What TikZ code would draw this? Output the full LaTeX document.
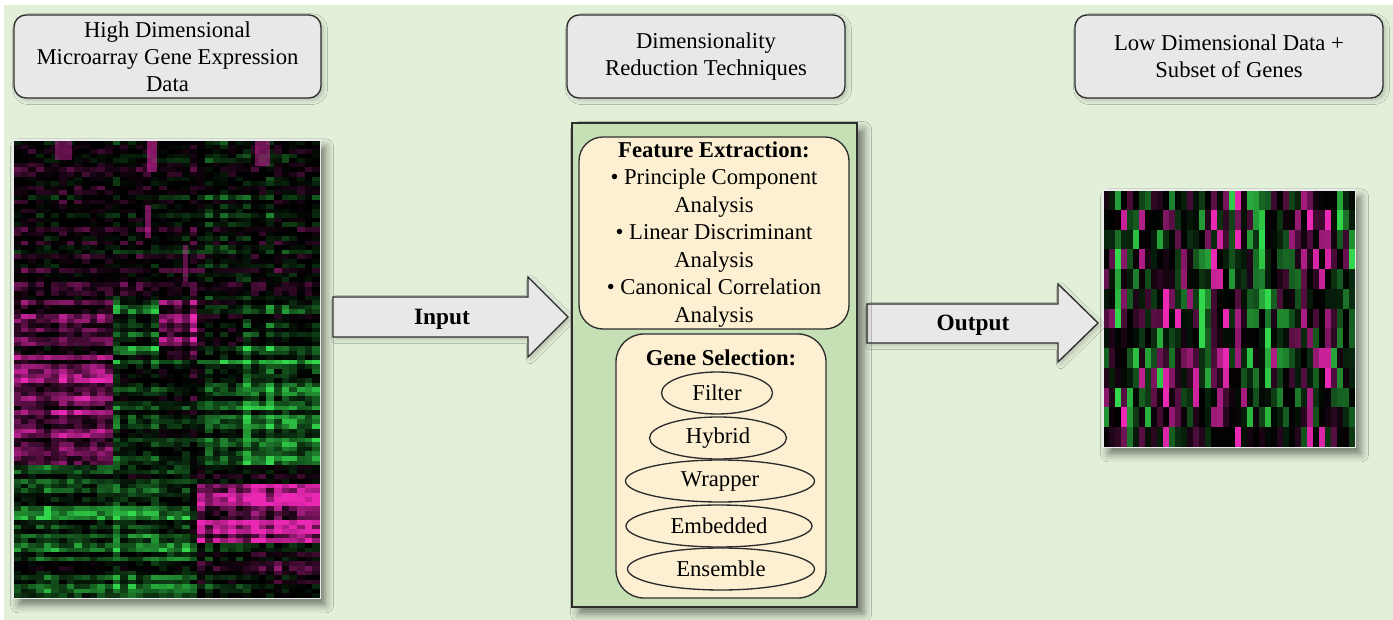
\documentclass[tikz,border=0pt]{standalone}
\usepackage{fontspec}
\setmainfont{Liberation Serif}
\usetikzlibrary{shapes.geometric,shadows.blur}
\definecolor{bg}{RGB}{226,239,217}
\definecolor{boxgray}{RGB}{232,232,232}
\definecolor{edge}{RGB}{45,45,45}
\definecolor{panel}{RGB}{198,224,181}
\definecolor{cream}{RGB}{253,240,210}
\definecolor{hmM}{RGB}{235,40,180}
\definecolor{hmG}{RGB}{50,215,75}
\definecolor{frame}{RGB}{235,235,235}

\newcommand\hmcell[5]{%
  \pgfmathsetmacro\hmv{#1}%
  \pgfmathtruncatemacro\hmp{min(100,125*(abs(\hmv)+0.001)^1.5)}%
  \ifdim\hmv pt<0pt \def\hmc{hmG}\else\def\hmc{hmM}\fi
  \fill[\hmc!\hmp!black] (#2,#3) rectangle ++(#4,#5);}

\def\setbias#1#2#3{\expandafter\def\csname lb#1-#2\endcsname{#3}}
\setbias{1}{1}{0.03}\setbias{1}{2}{0.0}\setbias{1}{3}{0.05}\setbias{1}{4}{-0.1}\setbias{1}{5}{-0.08}
\setbias{2}{1}{0.2}\setbias{2}{2}{-0.4}\setbias{2}{3}{0.4}\setbias{2}{4}{-0.1}\setbias{2}{5}{-0.35}
\setbias{3}{1}{0.38}\setbias{3}{2}{-0.25}\setbias{3}{3}{-0.1}\setbias{3}{4}{-0.35}\setbias{3}{5}{-0.55}
\setbias{4}{1}{-0.25}\setbias{4}{2}{0.0}\setbias{4}{3}{-0.1}\setbias{4}{4}{0.1}\setbias{4}{5}{0.1}
\setbias{5}{1}{-0.45}\setbias{5}{2}{-0.5}\setbias{5}{3}{-0.3}\setbias{5}{4}{0.5}\setbias{5}{5}{0.6}
\setbias{6}{1}{-0.3}\setbias{6}{2}{-0.35}\setbias{6}{3}{-0.3}\setbias{6}{4}{-0.05}\setbias{6}{5}{0.05}

\tikzset{
  graybox/.style={draw=edge, line width=1pt, fill=boxgray, rounded corners=9pt,
    align=center, inner sep=0pt, font=\fontsize{17}{20.25}\selectfont,
    blur shadow={shadow xshift=2pt, shadow yshift=-2pt, shadow blur radius=3pt, shadow opacity=20}},
  bigarrow/.style={draw=edge, line width=1pt, fill=boxgray,
    blur shadow={shadow xshift=2pt, shadow yshift=-2pt, shadow blur radius=3pt, shadow opacity=20}},
  arrowlabel/.style={font=\fontsize{17.5}{20}\selectfont\bfseries, inner sep=0pt},
  creambox/.style={draw=edge, line width=1pt, fill=cream, inner sep=0pt},
  method/.style={ellipse, draw=edge, line width=1pt, fill=cream, inner sep=0pt,
    minimum height=31.5pt, font=\fontsize{17}{18}\selectfont},
  hmshadow/.style={blur shadow={shadow xshift=4pt, shadow yshift=-5pt, shadow blur radius=6pt, shadow opacity=50}}
}

\begin{document}
\begin{tikzpicture}[x=0.75pt,y=-0.75pt]
\useasboundingbox (0,0) rectangle (1393,620);
\fill[white] (0,0) rectangle (1393,620);
\fill[bg] (4,5) rectangle (1393,620);

% ---------- header boxes ----------
\node[graybox, minimum width=230.25pt, minimum height=62.25pt] (hdr1) at (167.5,56.5)
  {High Dimensional\\Microarray Gene Expression\\Data};
\node[graybox, minimum width=208.5pt, minimum height=62.25pt] (hdr2) at (706,56.5)
  {Dimensionality\\Reduction Techniques};
\node[graybox, minimum width=231pt, minimum height=62.25pt] (hdr3) at (1229,56.5)
  {Low Dimensional Data +\\Subset of Genes};

% ---------- left heatmap ----------
\node[hmshadow, fill=black, inner sep=0pt, minimum width=230.25pt, minimum height=343.5pt, anchor=north west] (lhm) at (13,140) {};
\pgfmathsetseed{4242}
\foreach \j in {0,...,39}{\pgfmathsetmacro\t{rand}\expandafter\xdef\csname lcn\j\endcsname{\t}}
\foreach \i in {0,...,99}{%
  \pgfmathsetmacro\rn{rand}%
  \ifnum\i<35 \def\rg{1}\else\ifnum\i<47 \def\rg{2}\else\ifnum\i<71 \def\rg{3}\else\ifnum\i<75 \def\rg{4}\else\ifnum\i<88 \def\rg{5}\else\def\rg{6}\fi\fi\fi\fi\fi
  \foreach \j in {0,...,39}{%
    \ifnum\j<13 \def\cg{1}\else\ifnum\j<19 \def\cg{2}\else\ifnum\j<24 \def\cg{3}\else\ifnum\j<30 \def\cg{4}\else\def\cg{5}\fi\fi\fi\fi
    \hmcell{\csname lb\rg-\cg\endcsname+0.3*(\rn)+0.14*(\csname lcn\j\endcsname)+0.2*rand}{{13+\j*7.675}}{{140+\i*4.58}}{7.9}{4.8}%
  }%
}
\fill[hmM, opacity=.55] (147,140) rectangle (157,172);
\fill[hmM, opacity=.5] (145,205) rectangle (151,238);
\fill[hmM, opacity=.4] (183,245) rectangle (188,282);
\fill[hmM, opacity=.45] (255,140) rectangle (270,166);
\fill[hmM, opacity=.4] (55,140) rectangle (72,160);
\draw[frame, line width=1pt] (lhm.north west) rectangle (lhm.south east);

% ---------- right heatmap ----------
\node[hmshadow, fill=black, inner sep=0pt, minimum width=189pt, minimum height=192.75pt, anchor=north west] (rhm) at (1103,190) {};
\pgfmathsetseed{777}
\foreach \j in {0,...,41}{\pgfmathsetmacro\t{rand}\expandafter\xdef\csname rcn\j\endcsname{\t}}
\foreach \i in {0,...,12}{%
  \foreach \j in {0,...,41}{%
    \hmcell{0.45*(\csname rcn\j\endcsname)+0.68*rand}{{1103+\j*6}}{{190+\i*19.77}}{6.1}{19.9}%
  }%
}
\draw[frame, line width=1.2pt] (rhm.north west) rectangle (rhm.south east);

% ---------- arrows ----------
\draw[bigarrow] (333,297) -- (528,297) -- (528,277) -- (568,317) -- (528,357) -- (528,337) -- (333,337) -- cycle;
\node[arrowlabel] (inlbl) at (442,319) {Input};
\draw[bigarrow] (867,304) -- (1058,304) -- (1058,284) -- (1098,323) -- (1058,362) -- (1058,343) -- (867,343) -- cycle;
\node[arrowlabel] (outlbl) at (973,325) {Output};

% ---------- central panel ----------
\node[draw=edge, line width=1.3pt, fill=panel, inner sep=0pt, minimum width=213.75pt, minimum height=363pt,
  blur shadow={shadow xshift=5pt, shadow yshift=-5pt, shadow blur radius=6pt, shadow opacity=50}] (panel) at (714.5,365) {};

\node[creambox, rounded corners=18pt, minimum width=202.5pt, minimum height=144pt] (fe) at (714,233) {};
\node[align=center, inner sep=0pt, font=\fontsize{17}{20.6}\selectfont] (fetext) at (714,234.5)
  {\textbf{Feature Extraction:}\\• Principle Component\\Analysis\\• Linear Discriminant\\Analysis\\• Canonical Correlation\\Analysis};

\node[creambox, rounded corners=21pt, minimum width=157.5pt, minimum height=198pt] (gs) at (721,466) {};
\node[inner sep=0pt, font=\fontsize{17}{20}\selectfont\bfseries] (gstitle) at (721,358) {Gene Selection:};
\node[method, minimum width=83.25pt] (filter) at (717,393) {Filter};
\node[method, minimum width=102.75pt] (hybrid) at (718,438) {Hybrid};
\node[method, minimum width=141.75pt] (wrapper) at (720,481) {Wrapper};
\node[method, minimum width=139.5pt] (embedded) at (719,526) {Embedded};
\node[method, minimum width=140.25pt] (ensemble) at (721,569) {Ensemble};
\end{tikzpicture}
\end{document}
